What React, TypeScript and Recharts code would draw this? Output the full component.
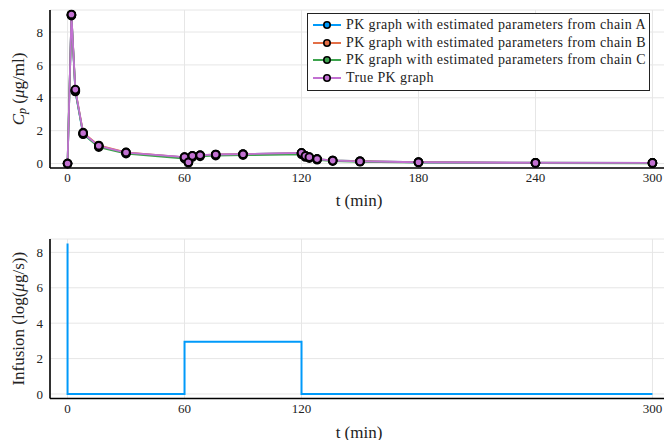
import { LineChart, Line, XAxis, YAxis, CartesianGrid, Legend } from 'recharts';

const FONT = '"Liberation Serif", "Times New Roman", serif';
const INK = '#222';

// sampling times (min) for the concentration curves
const sampleTimes = [0, 2, 4, 8, 16, 30, 60, 62, 64, 68, 76, 90, 120, 122, 124, 128, 136, 150, 180, 240, 300];

// Cp (µg/ml) per series
const chainA = [0, 9.0, 4.38, 1.78, 1.04, 0.65, 0.38, 0.1, 0.45, 0.5, 0.54, 0.57, 0.63, 0.46, 0.38, 0.27, 0.19, 0.14, 0.08, 0.05, 0.04];
const chainB = [0, 9.05, 4.45, 1.88, 1.1, 0.68, 0.38, 0.1, 0.46, 0.5, 0.55, 0.58, 0.64, 0.46, 0.38, 0.27, 0.19, 0.14, 0.09, 0.05, 0.04];
const chainC = [0, 9.02, 4.42, 1.8, 1.0, 0.6, 0.3, 0.05, 0.4, 0.44, 0.48, 0.51, 0.56, 0.4, 0.33, 0.23, 0.15, 0.11, 0.06, 0.03, 0.02];
const truePK = [0, 9.07, 4.5, 1.85, 1.08, 0.67, 0.39, 0.08, 0.47, 0.51, 0.55, 0.57, 0.65, 0.47, 0.39, 0.27, 0.18, 0.13, 0.08, 0.04, 0.04];

// infusion schedule, log(µg/s), drawn as a step function
const infusionTimes = [0, 0, 60, 120, 300];
const infusionRates = [8.5, 0, 2.95, 0, 0];

const topTicksX = [0, 60, 120, 180, 240, 300];
const bottomTicksX = [0, 60, 120, 300];
const ticksY = [0, 2, 4, 6, 8];

const SERIES = [
  { key: 'a', name: 'PK graph with estimated parameters from chain A', color: '#009AFA' },
  { key: 'b', name: 'PK graph with estimated parameters from chain B', color: '#E36F47' },
  { key: 'c', name: 'PK graph with estimated parameters from chain C', color: '#3EA44E' },
  { key: 'truth', name: 'True PK graph', color: '#C271D2' },
];

const pkData = sampleTimes.map((t, i) => ({
  t,
  a: chainA[i],
  b: chainB[i],
  c: chainC[i],
  truth: truePK[i],
}));

const infusionData = infusionTimes.map((t, i) => ({ t, rate: infusionRates[i] }));

const tickStyle = { fill: INK, fontSize: 13, fontFamily: FONT };
const axisLineStyle = { stroke: '#000', strokeWidth: 1.6 };

// plot area spans x 50..670 in both panels
function TimeLabel({ y }: { y: number }) {
  return (
    <text x={359} y={y} textAnchor="middle" dominantBaseline="central" fontFamily={FONT} fontSize={17} fill={INK}>
      t (min)
    </text>
  );
}

function CpLabel({ viewBox }: any) {
  const cy = viewBox.y + viewBox.height / 2;
  return (
    <text x={18} y={cy} transform={`rotate(-90, 18, ${cy})`} textAnchor="middle" dominantBaseline="central" fontFamily={FONT} fontSize={17} fill={INK}>
      <tspan fontStyle="italic">C</tspan>
      <tspan fontStyle="italic" fontSize={12} dy={4}>p</tspan>
      <tspan dy={-4}>{'  ('}</tspan>
      <tspan fontStyle="italic">μ</tspan>
      <tspan>g/ml)</tspan>
    </text>
  );
}

function InfusionLabel({ viewBox }: any) {
  const cy = viewBox.y + viewBox.height / 2;
  return (
    <text x={18} y={cy} transform={`rotate(-90, 18, ${cy})`} textAnchor="middle" dominantBaseline="central" fontFamily={FONT} fontSize={17} fill={INK}>
      <tspan>Infusion  (log(</tspan>
      <tspan fontStyle="italic">μ</tspan>
      <tspan>g/s))</tspan>
    </text>
  );
}

function PkLegend({ payload }: any) {
  return (
    <div
      style={{
        boxSizing: 'border-box',
        width: 343,
        height: 78,
        border: '1.6px solid #222',
        background: '#fff',
        padding: '2px 0 0 5px',
        fontFamily: FONT,
        fontSize: 14,
        letterSpacing: 0.4,
        color: INK,
      }}
    >
      {(payload || []).map((entry: any) => (
        <div key={entry.value} style={{ display: 'flex', alignItems: 'center', height: 17.7, whiteSpace: 'nowrap' }}>
          <svg width={28} height={12} style={{ marginRight: 5, flex: 'none' }}>
            <line x1={0} y1={6} x2={28} y2={6} stroke={entry.color} strokeWidth={2} />
            <circle cx={14} cy={6} r={3.2} fill={entry.color} stroke="#000" strokeWidth={1.6} />
          </svg>
          <span>{entry.value}</span>
        </div>
      ))}
    </div>
  );
}

export default function App() {
  return (
    <div style={{ position: 'absolute', left: 0, top: 0, width: 664, height: 440, overflow: 'hidden', background: '#fff' }}>
      <div style={{ position: 'absolute', left: 0, top: 0 }}>
        <LineChart width={670} height={220} data={pkData} margin={{ top: 10, right: 0, bottom: 22, left: 10 }}>
          <CartesianGrid stroke="#e6e6e6" strokeWidth={1} />
          <XAxis
            dataKey="t"
            type="number"
            domain={[-9, 309]}
            ticks={topTicksX}
            height={30}
            tick={tickStyle}
            tickLine={false}
            tickSize={3}
            tickMargin={2}
            axisLine={axisLineStyle}
          />
          <YAxis
            type="number"
            domain={[-0.27, 9.34]}
            ticks={ticksY}
            width={40}
            tick={tickStyle}
            tickLine={false}
            tickSize={5}
            tickMargin={2}
            axisLine={axisLineStyle}
            label={<CpLabel />}
          />
          <Legend
            layout="vertical"
            align="center"
            verticalAlign="middle"
            content={<PkLegend />}
            wrapperStyle={{ position: 'absolute', left: 307, top: 13, width: 343, height: 78 }}
          />
          {SERIES.map((s) => (
            <Line
              key={s.key}
              type="linear"
              dataKey={s.key}
              name={s.name}
              stroke={s.color}
              strokeWidth={1.8}
              dot={{ r: 3.8, fill: s.color, stroke: '#000', strokeWidth: 2 }}
              activeDot={false}
              isAnimationActive={false}
            />
          ))}
          <TimeLabel y={200} />
        </LineChart>
      </div>
      <div style={{ position: 'absolute', left: 0, top: 220 }}>
        <LineChart width={670} height={220} data={infusionData} margin={{ top: 19, right: 0, bottom: 11.5, left: 10 }}>
          <CartesianGrid stroke="#e6e6e6" strokeWidth={1} />
          <XAxis
            dataKey="t"
            type="number"
            domain={[-9, 309]}
            ticks={bottomTicksX}
            height={30}
            tick={tickStyle}
            tickLine={false}
            tickSize={3}
            tickMargin={2}
            axisLine={axisLineStyle}
          />
          <YAxis
            type="number"
            domain={[-0.255, 8.755]}
            ticks={ticksY}
            width={40}
            tick={tickStyle}
            tickLine={false}
            tickSize={5}
            tickMargin={2}
            axisLine={axisLineStyle}
            label={<InfusionLabel />}
          />
          <Line
            type="stepAfter"
            dataKey="rate"
            stroke="#009AFA"
            strokeWidth={2}
            dot={false}
            activeDot={false}
            isAnimationActive={false}
          />
          <TimeLabel y={212} />
        </LineChart>
      </div>
    </div>
  );
}
